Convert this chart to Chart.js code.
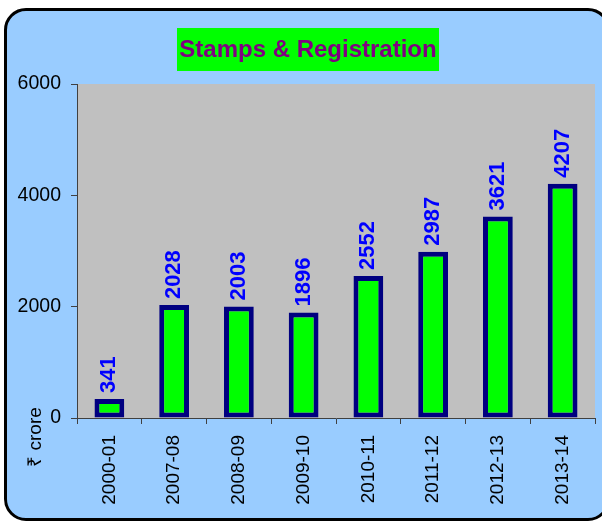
<!DOCTYPE html>
<html lang="en">
<head>
  <meta charset="UTF-8">
  <title>Stamps &amp; Registration</title>
  <script src="https://cdn.jsdelivr.net/npm/chart.js@4.4.1/dist/chart.umd.min.js"></script>
  <style>
    html, body {
      margin: 0;
      padding: 0;
      background: #fff;
      overflow: hidden;
    }
    .frame {
      position: absolute;
      left: 4px;
      top: 8px;
      width: 600px;
      height: 507px;
      border: 3px solid #000;
      border-radius: 22px;
      background: #99ccff;
    }
    #chart {
      position: absolute;
      left: 0;
      top: 0;
    }
  </style>
</head>
<body>
  <div class="frame"></div>
  <canvas id="chart" width="602" height="523"></canvas>
  <script>
    const years = ['2000-01', '2007-08', '2008-09', '2009-10', '2010-11', '2011-12', '2012-13', '2013-14'];
    const receipts = [341, 2028, 2003, 1896, 2552, 2987, 3621, 4207];
    const yTicks = [0, 2000, 4000, 6000];
    const chartTitle = 'Stamps & Registration';
    const unitLabel = '₹ crore';

    const FONT = '"Liberation Sans", Arial, sans-serif';

    // gray plot area, title box, unit label and bar values
    const decor = {
      id: 'decor',
      beforeDraw(chart) {
        const a = chart.chartArea;
        const ctx = chart.ctx;
        ctx.save();
        ctx.fillStyle = '#c0c0c0';
        ctx.fillRect(a.left, a.top, a.right - a.left, a.bottom - a.top);
        ctx.restore();
      },
      afterDraw(chart) {
        const ctx = chart.ctx;
        ctx.save();
        // title
        ctx.fillStyle = '#00ff00';
        ctx.fillRect(177, 28, 262, 43);
        ctx.fillStyle = '#800080';
        ctx.font = 'bold 24px ' + FONT;
        ctx.textAlign = 'center';
        ctx.textBaseline = 'alphabetic';
        ctx.fillText(chartTitle, 308, 57);

        // unit label
        ctx.translate(41, 437);
        ctx.rotate(-Math.PI / 2);
        ctx.fillStyle = '#000';
        ctx.font = '19px ' + FONT;
        ctx.textAlign = 'center';
        ctx.textBaseline = 'alphabetic';
        ctx.fillText(unitLabel, 0, 0);
        ctx.restore();

        // values on bars
        const meta = chart.getDatasetMeta(0);
        ctx.save();
        ctx.fillStyle = '#0000ff';
        ctx.font = 'bold 22px ' + FONT;
        ctx.textAlign = 'left';
        ctx.textBaseline = 'middle';
        meta.data.forEach((bar, i) => {
          ctx.save();
          ctx.translate(bar.x, bar.y - 6);
          ctx.rotate(-Math.PI / 2);
          ctx.fillText(String(receipts[i]), 0, 0);
          ctx.restore();
        });
        ctx.restore();
      }
    };

    new Chart(document.getElementById('chart'), {
      type: 'bar',
      data: {
        labels: years,
        datasets: [{
          data: receipts,
          backgroundColor: '#00ff00',
          borderColor: '#000080',
          borderWidth: 5,
          borderSkipped: false,
          barPercentage: 0.46,
          categoryPercentage: 1
        }]
      },
      options: {
        responsive: false,
        animation: false,
        devicePixelRatio: 1,
        layout: { padding: { top: 84, right: 7, left: 0, bottom: 0 } },
        plugins: {
          legend: { display: false },
          title: { display: false },
          tooltip: { enabled: false }
        },
        scales: {
          x: {
            afterFit(scale) { scale.height = 105; },
            border: { color: '#404040', width: 1 },
            grid: { drawOnChartArea: false, color: '#404040', tickLength: 6, offset: true },
            ticks: {
              color: '#000',
              font: { family: FONT, size: 19 },
              minRotation: 90,
              maxRotation: 90,
              padding: 11
            }
          },
          y: {
            min: 0,
            max: 6000,
            afterFit(scale) { scale.width = 77; },
            afterBuildTicks(scale) { scale.ticks = yTicks.map(v => ({ value: v })); },
            border: { color: '#404040', width: 1 },
            grid: { drawOnChartArea: false, color: '#404040', tickLength: 6 },
            ticks: {
              color: '#000',
              font: { family: FONT, size: 19.5 },
              padding: 10,
              callback: v => String(v)
            }
          }
        }
      },
      plugins: [decor]
    });
  </script>
</body>
</html>
